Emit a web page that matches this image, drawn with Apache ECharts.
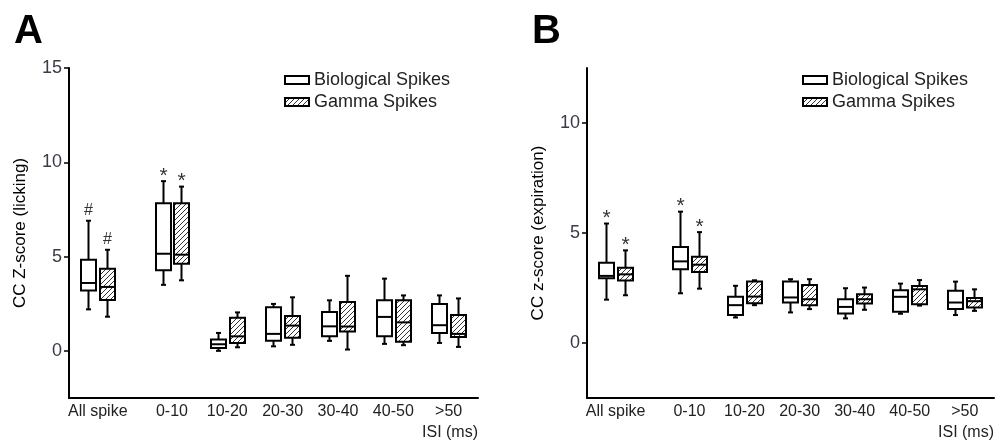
<!DOCTYPE html>
<html>
<head>
<meta charset="utf-8">
<script src="https://cdn.jsdelivr.net/npm/echarts@6/dist/echarts.min.js"></script>
<style>
html, body { margin: 0; padding: 0; background: #fff; }
#main { width: 995px; height: 447px; }
</style>
</head>
<body>
<div id="main"></div>
<script>
// 类别 (ISI 区间) 以及它们在横轴上的位置, All spike 与后面隔得更开
let cats = ['All spike', '0-10', '10-20', '20-30', '30-40', '40-50', '>50'];
let catPos = [0, 1.34, 2.34, 3.34, 4.34, 5.34, 6.34];

// A: licking, 每项 [low, q1, median, q3, high]
let bioA = [[2.2, 3.2, 3.6, 4.83, 6.9], [3.5, 4.27, 5.15, 7.83, 9.0], [0.0, 0.15, 0.35, 0.6, 0.95],
    [0.24, 0.53, 0.9, 2.31, 2.49], [0.53, 0.77, 1.3, 2.06, 2.68], [0.37, 0.77, 1.8, 2.68, 3.83], [0.42, 0.95, 1.36, 2.49, 2.94]];
let gamA = [[1.81, 2.7, 3.39, 4.35, 5.36], [3.74, 4.62, 5.1, 7.83, 8.71], [0.19, 0.42, 0.77, 1.75, 2.04],
    [0.32, 0.7, 1.34, 1.85, 2.84], [0.07, 1.02, 1.29, 2.59, 3.98], [0.3, 0.48, 1.51, 2.68, 2.94], [0.21, 0.74, 0.9, 1.9, 2.78]];
let markBioA = ['#', '*', '', '', '', '', ''];
let markGamA = ['#', '*', '', '', '', '', ''];

// B: expiration
let bioB = [[1.97, 2.94, 3.05, 3.65, 5.43], [2.26, 3.35, 3.71, 4.36, 5.97], [1.16, 1.27, 1.72, 2.1, 2.6],
    [1.39, 1.84, 2.07, 2.8, 2.9], [1.12, 1.34, 1.64, 1.99, 2.49], [1.33, 1.42, 2.1, 2.4, 2.7], [1.27, 1.54, 1.84, 2.37, 2.79]];
let gamB = [[2.17, 2.84, 3.12, 3.42, 4.21], [2.47, 3.23, 3.56, 3.92, 5.04], [1.72, 1.81, 2.11, 2.8, 2.85],
    [1.54, 1.72, 1.99, 2.64, 2.9], [1.51, 1.8, 1.99, 2.22, 2.52], [1.7, 1.76, 2.44, 2.59, 2.86], [1.46, 1.61, 1.9, 2.04, 2.44]];
let markBioB = ['*', '*', '', '', '', '', ''];
let markGamB = ['*', '*', '', '', '', '', ''];

let yTicksA = [0, 5, 10, 15];
let yTicksB = [0, 5, 10];

let font = '"Liberation Sans", Arial, sans-serif';

// 斜线填充
let hatch = (() => {
    let c = document.createElement('canvas');
    c.width = 5; c.height = 5;
    let ctx = c.getContext('2d');
    ctx.strokeStyle = '#333';
    ctx.lineWidth = 1;
    ctx.beginPath();
    ctx.moveTo(0, 5); ctx.lineTo(5, 0);
    ctx.moveTo(-1, 1); ctx.lineTo(1, -1);
    ctx.moveTo(4, 6); ctx.lineTo(6, 4);
    ctx.stroke();
    return { image: c, repeat: 'repeat' };
})();

// 把 [low,q1,med,q3,high] 和位置拼在一起
let toData = (arr) => arr.map((d, i) => [catPos[i]].concat(d));

// 画箱线
let boxRender = (shift, fill, marks) => (params, api) => {
    let x = api.value(0) + shift;
    let lo = api.coord([x, api.value(1)]);
    let q1 = api.coord([x, api.value(2)]);
    let md = api.coord([x, api.value(3)]);
    let q3 = api.coord([x, api.value(4)]);
    let hi = api.coord([x, api.value(5)]);
    let cx = Math.round(lo[0]) + 0.5;
    let hw = 7.5, cw = 2.5;
    let ls = { stroke: '#000', lineWidth: 2 };
    let kids = [
        { type: 'line', shape: { x1: cx, y1: hi[1], x2: cx, y2: q3[1] }, style: ls },
        { type: 'line', shape: { x1: cx, y1: q1[1], x2: cx, y2: lo[1] }, style: ls },
        { type: 'line', shape: { x1: cx - cw, y1: hi[1], x2: cx + cw, y2: hi[1] }, style: ls },
        { type: 'line', shape: { x1: cx - cw, y1: lo[1], x2: cx + cw, y2: lo[1] }, style: ls },
        { type: 'rect', shape: { x: cx - hw, y: q3[1], width: hw * 2, height: q1[1] - q3[1] },
          style: { fill: fill, stroke: '#000', lineWidth: 2 } },
        { type: 'line', shape: { x1: cx - hw, y1: md[1], x2: cx + hw, y2: md[1] }, style: ls }
    ];
    let m = marks[params.dataIndex];
    if (m) {
        let star = m === '*';
        kids.push({ type: 'text', style: { text: m, x: cx, y: hi[1] - (star ? 5 : 10), align: 'center', verticalAlign: 'middle',
            fontSize: star ? 21 : 16, fontFamily: font, fill: '#333' } });
    }
    return { type: 'group', children: kids };
};

let xAxisOf = (gi) => ({
    type: 'value', gridIndex: gi, min: -0.52, max: 6.87,
    axisLine: { show: true, onZero: false, lineStyle: { color: '#000', width: 2 } },
    axisTick: { show: false },
    splitLine: { show: false },
    axisLabel: {
        customValues: catPos, margin: 6, fontSize: 16, fontFamily: font, color: '#222',
        formatter: (v) => {
            let i = catPos.findIndex((p) => Math.abs(p - v) < 1e-6);
            return i < 0 ? '' : cats[i];
        }
    }
});

let yAxisOf = (gi, max, ticks, name) => ({
    type: 'value', gridIndex: gi, min: -2.5, max: max,
    name: name, nameLocation: 'middle', nameGap: 40,
    nameTextStyle: { fontSize: 17, fontFamily: font, color: '#000' },
    axisLine: { show: true, onZero: false, lineStyle: { color: '#000', width: 2 } },
    axisTick: { show: true, customValues: ticks, length: 5, lineStyle: { color: '#000', width: 1.5 } },
    splitLine: { show: false },
    axisLabel: { customValues: ticks, margin: 7, fontSize: 18, fontFamily: font, color: '#3a3a48' }
});

let legendOf = (left) => ({
    left: left, top: 66, orient: 'vertical', icon: 'rect',
    itemWidth: 24, itemHeight: 8, itemGap: 4, selectedMode: false,
    textStyle: { fontSize: 18, fontFamily: font, color: '#222' },
    data: [
        { name: 'Biological Spikes', itemStyle: { color: '#fff', borderColor: '#000', borderWidth: 2 } },
        { name: 'Gamma Spikes', itemStyle: { color: hatch, borderColor: '#000', borderWidth: 2 } }
    ]
});

let chart = echarts.init(document.getElementById('main'));
let option = {
    animation: false,
    backgroundColor: '#fff',
    grid: [
        { left: 69, right: 517, top: 68, bottom: 49 },
        { left: 587, right: 1, top: 68, bottom: 49 }
    ],
    xAxis: [xAxisOf(0), xAxisOf(1)],
    yAxis: [
        yAxisOf(0, 15, yTicksA, 'CC Z-score (licking)'),
        yAxisOf(1, 12.5, yTicksB, 'CC z-score (expiration)')
    ],
    legend: [legendOf(279), legendOf(797)],
    graphic: [
        { type: 'text', left: 14, top: 12, style: { text: 'A', fontSize: 40, fontWeight: 'bold', fontFamily: font, fill: '#000' } },
        { type: 'text', left: 532, top: 12, style: { text: 'B', fontSize: 40, fontWeight: 'bold', fontFamily: font, fill: '#000' } },
        { type: 'text', right: 517, top: 425, style: { text: 'ISI (ms)', fontSize: 16, fontFamily: font, fill: '#222' } },
        { type: 'text', right: 1, top: 425, style: { text: 'ISI (ms)', fontSize: 16, fontFamily: font, fill: '#222' } }
    ],
    series: [
        { name: 'Biological Spikes', type: 'custom', xAxisIndex: 0, yAxisIndex: 0, itemStyle: { color: '#fff' },
          renderItem: boxRender(-0.17, '#fff', markBioA), data: toData(bioA) },
        { name: 'Gamma Spikes', type: 'custom', xAxisIndex: 0, yAxisIndex: 0, itemStyle: { color: hatch },
          renderItem: boxRender(0.17, hatch, markGamA), data: toData(gamA) },
        { name: 'Biological Spikes', type: 'custom', xAxisIndex: 1, yAxisIndex: 1, itemStyle: { color: '#fff' },
          renderItem: boxRender(-0.17, '#fff', markBioB), data: toData(bioB) },
        { name: 'Gamma Spikes', type: 'custom', xAxisIndex: 1, yAxisIndex: 1, itemStyle: { color: hatch },
          renderItem: boxRender(0.17, hatch, markGamB), data: toData(gamB) }
    ]
};
chart.setOption(option);
</script>
</body>
</html>
